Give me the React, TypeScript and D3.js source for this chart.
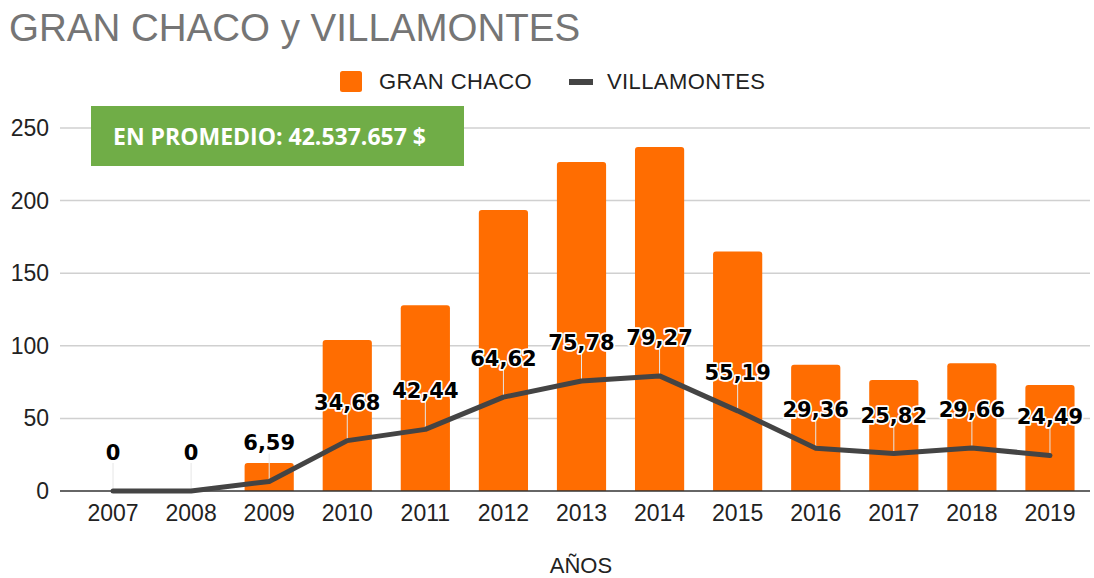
import React from "react";
import * as d3 from "d3";

const years = ["2007","2008","2009","2010","2011","2012","2013","2014","2015","2016","2017","2018","2019"];
const granChaco = [0, 0, 19.3, 104, 128, 193.5, 226.5, 237, 165, 87, 76.5, 88, 73];
const villamontes = [0, 0, 6.59, 34.68, 42.44, 64.62, 75.78, 79.27, 55.19, 29.36, 25.82, 29.66, 24.49];
const villamontesLabels = ["0","0","6,59","34,68","42,44","64,62","75,78","79,27","55,19","29,36","25,82","29,66","24,49"];
const yTicks = [0, 50, 100, 150, 200, 250];

const W = 1094, H = 578;

export default function App() {
  const x = d3.scaleBand<string>().domain(years).range([74, 1089]).paddingInner(0.37).paddingOuter(0.185);
  const y = d3.scaleLinear().domain([0, 250]).range([491, 128]);
  const line = d3.line<number>().x((_, i) => (x(years[i]) as number) + x.bandwidth() / 2).y(d => y(d));
  const font = "'Liberation Sans', Arial, sans-serif";
  return (
    <div style={{ position: "absolute", left: 0, top: 0 }}>
      <svg width={W} height={H} style={{ display: "block", background: "#fff" }}>
        <text x={9} y={41} fontFamily={font} fontSize={38.5} fill="#757575">GRAN CHACO y VILLAMONTES</text>
        {/* legend */}
        <rect x={340} y={71} width={22} height={21} rx={2.5} fill="#FF6D01" />
        <text x={379} y={89} fontFamily={font} fontSize={22} letterSpacing={0.4} fill="#222">GRAN CHACO</text>
        <line x1={569} x2={593} y1={82} y2={82} stroke="#444" strokeWidth={6} />
        <text x={607} y={89} fontFamily={font} fontSize={22} letterSpacing={0.4} fill="#222">VILLAMONTES</text>
        {/* grid */}
        {yTicks.map(t => (
          <g key={t}>
            {t > 0 && <line x1={60} x2={1090} y1={y(t)} y2={y(t)} stroke="#d0d0d0" strokeWidth={1.5} />}
            <text x={49} y={y(t) + 8} textAnchor="end" fontFamily={font} fontSize={23} fill="#222">{t}</text>
          </g>
        ))}
        {/* bars */}
        {granChaco.map((v, i) => v > 0 && (
          <path key={i}
            d={(() => {
              const x0 = x(years[i]) as number, w = x.bandwidth(), y0 = y(v), y1 = y(0), r = 3;
              return `M${x0},${y1}V${y0 + r}Q${x0},${y0} ${x0 + r},${y0}H${x0 + w - r}Q${x0 + w},${y0} ${x0 + w},${y0 + r}V${y1}Z`;
            })()}
            fill="#FF6D01" />
        ))}
        <line x1={60} x2={1090} y1={y(0)} y2={y(0)} stroke="#333" strokeWidth={1.5} />
        {/* leader lines */}
        {villamontes.map((v, i) => {
          const cx = (x(years[i]) as number) + x.bandwidth() / 2;
          return <line key={i} x1={cx} x2={cx} y1={y(v) - 28} y2={y(v)} stroke="#e6e6e6" strokeWidth={1} />;
        })}
        <path d={line(villamontes) || ""} fill="none" stroke="#444" strokeWidth={5} strokeLinejoin="round" strokeLinecap="round" />
        {villamontes.map((v, i) => {
          const cx = (x(years[i]) as number) + x.bandwidth() / 2;
          return (
            <text key={i} x={cx} y={y(v) - 31} textAnchor="middle" fontFamily="'DejaVu Sans', sans-serif" fontWeight="bold" fontSize={21}
              fill="#000" stroke="#fff" strokeWidth={3.5} strokeLinejoin="round" style={{ paintOrder: "stroke" }}>
              {villamontesLabels[i]}
            </text>
          );
        })}
        {/* x labels */}
        {years.map(yr => (
          <text key={yr} x={(x(yr) as number) + x.bandwidth() / 2} y={521} textAnchor="middle" fontFamily={font} fontSize={23} fill="#222">{yr}</text>
        ))}
        <text x={581} y={573} textAnchor="middle" fontFamily={font} fontSize={22} fill="#222">AÑOS</text>
        {/* green box */}
        <rect x={91} y={106} width={373} height={60} fill="#70AD47" />
        <text x={113} y={145} fontFamily="'Open Sans', 'Noto Sans', sans-serif" fontWeight="bold" fontSize={23} fill="#fff">EN PROMEDIO: 42.537.657 $</text>
      </svg>
    </div>
  );
}
